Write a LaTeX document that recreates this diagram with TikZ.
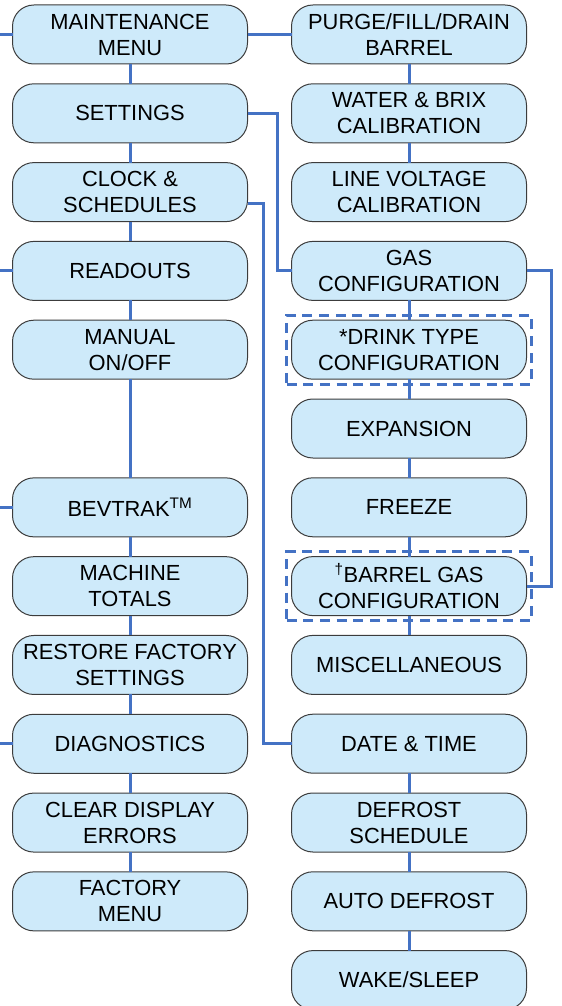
\documentclass[tikz,border=0pt]{standalone}
\usepackage{fontspec}
\setmainfont{Liberation Sans}
\usetikzlibrary{positioning}
\usetikzlibrary{fit}

\definecolor{menufill}{RGB}{206,234,250}
\definecolor{menuline}{RGB}{68,114,196}
\definecolor{menuedge}{RGB}{60,60,60}

\begin{document}
\begin{tikzpicture}[
  x=0.75pt, y=-0.75pt,
  node distance=14.85pt and 33pt,
  menu/.style={rectangle, draw=menuedge, line width=0.75pt, fill=menufill, rounded corners=16pt, minimum width=176.25pt, minimum height=44.25pt, inner sep=0pt, outer sep=0pt, align=center, font=\fontsize{16.4}{19.5}\selectfont},
  link/.style={draw=menuline, line width=2.25pt},
  optbox/.style={rectangle, draw=menuline, line width=2.25pt, dash pattern=on 7.5pt off 5pt, inner sep=3.75pt}
]
\useasboundingbox (0,0) rectangle (561,1006);

% Left column
\node[menu] (maint) at (130,34.5) {MAINTENANCE\\MENU};
\node[menu, below=of maint] (settings) {SETTINGS};
\node[menu, below=of settings] (clock) {CLOCK \&\\SCHEDULES};
\node[menu, below=of clock] (readouts) {READOUTS};
\node[menu, below=of readouts] (manual) {MANUAL\\ON/OFF};
\node[menu, below=74pt of manual] (bevtrak) {BEVTRAK\textsuperscript{TM}};
\node[menu, below=of bevtrak] (totals) {MACHINE\\TOTALS};
\node[menu, below=of totals] (restore) {RESTORE FACTORY\\SETTINGS};
\node[menu, below=of restore] (diag) {DIAGNOSTICS};
\node[menu, below=of diag] (clearerr) {CLEAR DISPLAY\\ERRORS};
\node[menu, below=of clearerr] (factory) {FACTORY\\MENU};

% Right column
\node[menu, right=of maint] (purge) {PURGE/FILL/DRAIN\\BARREL};
\node[menu, below=of purge] (waterbrix) {WATER \& BRIX\\CALIBRATION};
\node[menu, below=of waterbrix] (linevolt) {LINE VOLTAGE\\CALIBRATION};
\node[menu, below=of linevolt] (gas) {GAS\\CONFIGURATION};
\node[menu, below=of gas] (drink) {*DRINK TYPE\\CONFIGURATION};
\node[menu, below=of drink] (expansion) {EXPANSION};
\node[menu, below=of expansion] (freeze) {FREEZE};
\node[menu, below=of freeze] (barrelgas) {\textsuperscript{†}BARREL GAS\\CONFIGURATION};
\node[menu, below=of barrelgas] (misc) {MISCELLANEOUS};
\node[menu, below=of misc] (datetime) {DATE \& TIME};
\node[menu, below=of datetime] (defrost) {DEFROST\\SCHEDULE};
\node[menu, below=of defrost] (autodefrost) {AUTO DEFROST};
\node[menu, below=of autodefrost] (wakesleep) {WAKE/SLEEP};

% Optional items
\node[optbox, fit=(drink)] (drinkopt) {};
\node[optbox, fit=(barrelgas)] (barrelopt) {};

% Links
\foreach \a/\b in {maint/settings, settings/clock, clock/readouts, readouts/manual, manual/bevtrak, bevtrak/totals, totals/restore, restore/diag, diag/clearerr, clearerr/factory}
  \draw[link] (\a) -- (\b);
\foreach \a/\b in {purge/waterbrix, waterbrix/linevolt, gas/drink, drink/expansion, expansion/freeze, freeze/barrelgas, barrelgas/misc, datetime/defrost, defrost/autodefrost, autodefrost/wakesleep}
  \draw[link] (\a) -- (\b);

\draw[link] (maint) -- (purge);
\draw[link] (settings.east) -- ++(29.5,0) |- (gas.west);
\draw[link] ([yshift=-8.25pt]clock.east) -- ++(15.5,0) |- (datetime.west);
\draw[link] (gas.east) -- ++(25,0) |- (barrelgas.east);

% Entries from the left
\coordinate (edge) at (0,0);
\foreach \n in {maint, readouts, bevtrak, diag}
  \draw[link] (\n.west) -- (\n.west -| edge);

\end{tikzpicture}
\end{document}
